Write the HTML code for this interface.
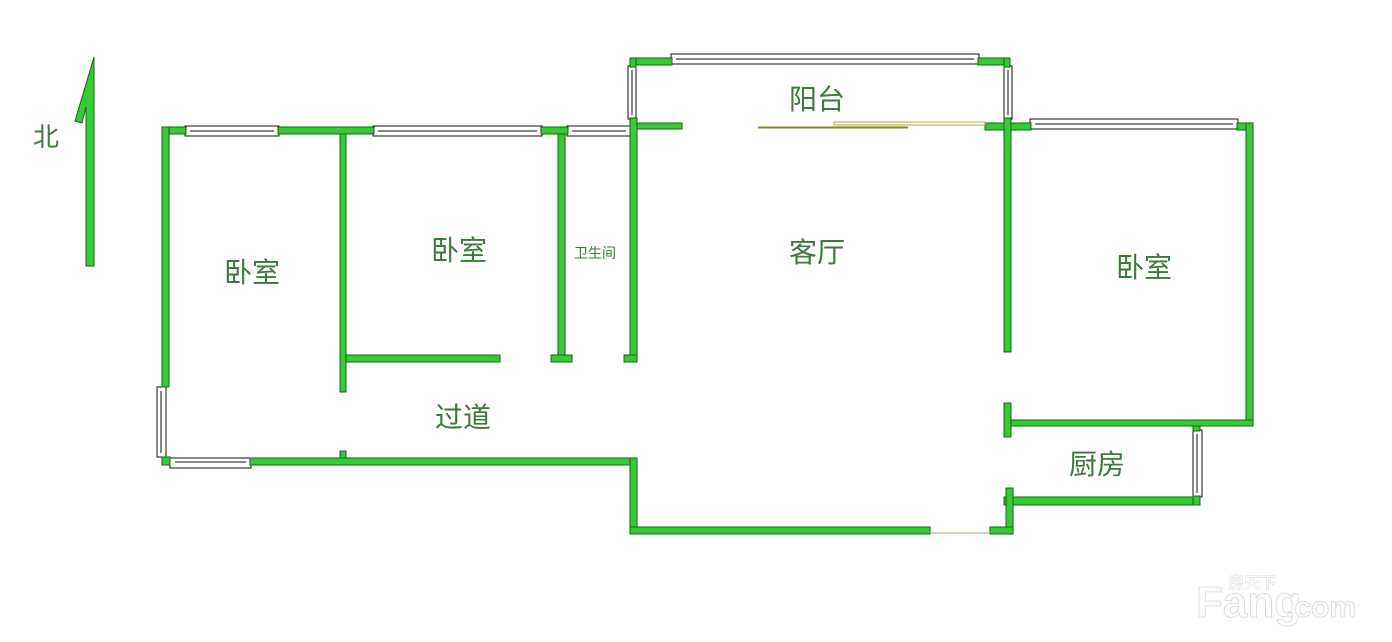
<!DOCTYPE html>
<html><head><meta charset="utf-8"><style>
html,body{margin:0;padding:0;background:#fff;}
svg{display:block;}
text{font-family:"Liberation Sans","Noto Sans CJK SC",sans-serif;fill:#3a7a3a;}
</style></head><body>
<svg width="1392" height="642" viewBox="0 0 1392 642" xmlns="http://www.w3.org/2000/svg">
<g fill="#fff" stroke="#111" stroke-width="1">
<!-- windows -->
<rect x="185" y="126" width="94" height="10"/><line x1="190" y1="131" x2="274" y2="131"/>
<rect x="373" y="126" width="169" height="10"/><line x1="378" y1="131" x2="537" y2="131"/>
<rect x="567" y="126" width="64" height="10"/><line x1="572" y1="131" x2="626" y2="131"/>
<rect x="671" y="54" width="308" height="10"/><line x1="676" y1="59" x2="974" y2="59"/>
<rect x="628" y="66" width="8" height="53"/><line x1="632" y1="70" x2="632" y2="115"/>
<rect x="1004" y="66" width="8" height="53"/><line x1="1008" y1="70" x2="1008" y2="115"/>
<rect x="1030" y="119" width="208" height="10"/><line x1="1035" y1="124" x2="1233" y2="124"/>
<rect x="1193" y="430" width="9" height="67"/><line x1="1197" y1="434" x2="1197" y2="493"/>
<rect x="157" y="387" width="9" height="70"/><line x1="161" y1="391" x2="161" y2="453"/>
<rect x="170" y="458" width="81" height="10"/><line x1="175" y1="462" x2="246" y2="462"/>
</g>
<g fill="#33cc33" stroke="#1c5e1c" stroke-width="1">
<!-- left block -->
<rect x="162" y="127" width="24" height="7"/>
<rect x="278" y="127" width="96" height="7"/>
<rect x="541" y="127" width="27" height="7"/>
<rect x="162" y="127" width="7" height="260"/>
<rect x="162" y="457" width="8" height="8"/>
<rect x="250" y="458" width="387" height="7"/>
<rect x="340" y="134" width="6" height="258"/>
<rect x="340" y="451" width="6" height="7"/>
<rect x="346" y="355" width="154" height="7"/>
<rect x="558" y="134" width="7" height="228"/>
<rect x="551" y="355" width="21" height="7"/>
<rect x="630" y="118" width="7" height="244"/>
<rect x="624" y="355" width="13" height="7"/>
<rect x="637" y="123" width="45" height="6"/>
<!-- balcony -->
<rect x="630" y="58" width="42" height="7"/>
<rect x="630" y="58" width="6" height="9"/>
<rect x="978" y="58" width="32" height="7"/>
<rect x="1004" y="58" width="6" height="9"/>
<rect x="985" y="123" width="46" height="7"/>
<!-- right bedroom -->
<rect x="1004" y="118" width="7" height="234"/>
<rect x="1237" y="123" width="16" height="7"/>
<rect x="1246" y="123" width="7" height="303"/>
<rect x="1004" y="420" width="249" height="6"/>
<rect x="1004" y="403" width="7" height="34"/>
<rect x="1193" y="426" width="7" height="5"/>
<!-- kitchen -->
<rect x="1004" y="497" width="196" height="8"/>
<rect x="1193" y="496" width="7" height="9"/>
<rect x="1006" y="488" width="7" height="46"/>
<!-- bottom -->
<rect x="630" y="458" width="7" height="76"/>
<rect x="630" y="527" width="300" height="7"/>
<rect x="990" y="527" width="23" height="7"/>
<!-- north arrow -->
<polygon points="86,266 94,266 94,57 75,121 82,123 86,107"/>
</g>
<line x1="930" y1="533" x2="990" y2="533" stroke="#b0a060" stroke-width="1"/>
<line x1="758" y1="127.5" x2="908" y2="127.5" stroke="#8a8a20" stroke-width="2"/>
<rect x="834" y="122" width="151" height="3" fill="#fff" stroke="#b0a840" stroke-width="1"/>
<text x="33" y="146" font-size="26">北</text>
<text x="224" y="282" font-size="28">卧室</text>
<text x="431" y="260" font-size="28">卧室</text>
<text x="574" y="258" font-size="14">卫生间</text>
<text x="789" y="262" font-size="28">客厅</text>
<text x="789" y="109" font-size="28">阳台</text>
<text x="1116" y="277" font-size="28">卧室</text>
<text x="435" y="427" font-size="28">过道</text>
<text x="1069" y="474" font-size="28">厨房</text>
<text x="1196" y="617" font-size="44" font-weight="bold" style="fill:#fff;stroke:#ddd;stroke-width:1">Fang</text>
<text x="1286" y="617" font-size="30" font-weight="bold" style="fill:#fff;stroke:#ddd;stroke-width:1">.com</text>
<text x="1228" y="588" font-size="16" font-weight="bold" style="fill:#fff;stroke:#ddd;stroke-width:0.6">房天下</text>
</svg>
</body></html>
